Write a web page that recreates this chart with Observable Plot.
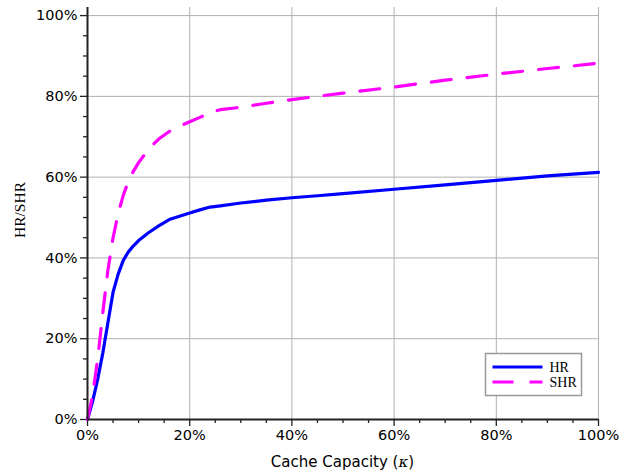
<!DOCTYPE html>
<html><head><meta charset="utf-8">
<script src="https://cdn.jsdelivr.net/npm/d3@7"></script>
<script src="https://cdn.jsdelivr.net/npm/@observablehq/plot@0.6"></script>
<style>html,body{margin:0;padding:0;background:#fff} svg{display:block}</style>
</head><body><div id="chart"></div>
<script>
// Cache capacity (fraction of catalogue)
const capacity = [0, 0.01, 0.02, 0.03, 0.04, 0.05, 0.06, 0.07, 0.08, 0.09, 0.10, 0.12, 0.14, 0.16, 0.18, 0.20, 0.22, 0.24, 0.26, 0.30, 0.35, 0.40, 0.45, 0.50, 0.60, 0.70, 0.80, 0.90, 1.00];
// Hit ratio (HR)
const hr = [0, 0.045, 0.10, 0.165, 0.24, 0.315, 0.36, 0.394, 0.415, 0.43, 0.443, 0.463, 0.48, 0.495, 0.503, 0.511, 0.519, 0.526, 0.529, 0.536, 0.543, 0.549, 0.554, 0.559, 0.570, 0.581, 0.592, 0.603, 0.612];
// Social hit ratio (SHR)
const shr = [0, 0.06, 0.15, 0.265, 0.37, 0.45, 0.51, 0.555, 0.59, 0.615, 0.636, 0.67, 0.695, 0.713, 0.726, 0.737, 0.748, 0.76, 0.767, 0.773, 0.783, 0.792, 0.800, 0.808, 0.823, 0.840, 0.855, 0.869, 0.882];
const seriesNames = ["HR", "SHR"];
const seriesColors = ["#0000ff", "#ff00ff"];
const majorTicks = [0, 0.2, 0.4, 0.6, 0.8, 1.0];
const minorTicks = [0.05, 0.10, 0.15, 0.25, 0.30, 0.35, 0.45, 0.50, 0.55, 0.65, 0.70, 0.75, 0.85, 0.90, 0.95];
const xLabel = "Cache Capacity (";
const xLabelSym = "κ";
const yLabel = "HR/SHR";

const rows = [];
capacity.forEach((c, i) => {
  rows.push({x: c, y: hr[i], s: seriesNames[0]});
  rows.push({x: c, y: shr[i], s: seriesNames[1]});
});
const pct = d3.format(".0%");
const sans = "DejaVu Sans, sans-serif";
const serif = "Liberation Serif, serif";

const plot = Plot.plot({
  width: 622, height: 475,
  marginLeft: 87, marginRight: 24, marginTop: 7, marginBottom: 56,
  style: {fontFamily: sans, fontSize: "14.5px", color: "#000", background: "#fff"},
  x: {domain: [0, 1]},
  y: {domain: [0, 1.02]},
  color: {domain: seriesNames, range: seriesColors},
  marks: [
    Plot.gridX(majorTicks, {stroke: "#b0b0b0", strokeOpacity: 1, strokeWidth: 1}),
    Plot.gridY(majorTicks, {stroke: "#b0b0b0", strokeOpacity: 1, strokeWidth: 1}),
    Plot.axisX(minorTicks, {tickSize: 4, tickFormat: () => "", label: null, stroke: "#222", strokeWidth: 1.3}),
    Plot.axisY(minorTicks, {tickSize: 4, tickFormat: () => "", label: null, stroke: "#222", strokeWidth: 1.3}),
    Plot.axisX(majorTicks, {tickSize: 7, tickPadding: 3, tickFormat: pct, label: null, stroke: "#222", strokeWidth: 1.3, fontSize: 14.5, fill: "#000"}),
    Plot.axisY(majorTicks, {tickSize: 7, tickPadding: 3, tickFormat: pct, label: null, stroke: "#222", strokeWidth: 1.3, fontSize: 14.5, fill: "#000"}),
    Plot.line(rows.filter(d => d.s === "HR"), {x: "x", y: "y", stroke: "s", strokeWidth: 3.2, curve: "linear"}),
    Plot.line(rows.filter(d => d.s === "SHR"), {x: "x", y: "y", stroke: "s", strokeWidth: 3.2, strokeDasharray: "20,16", curve: "linear"}),
    Plot.ruleY([0], {stroke: "#222", strokeWidth: 2}),
    Plot.ruleX([0], {stroke: "#222", strokeWidth: 2})
  ]
});
document.getElementById("chart").appendChild(plot);

const svg = d3.select(plot);
// Axis labels
const xt = svg.append("text").attr("x", 342.5).attr("y", 467).attr("text-anchor", "middle")
  .attr("font-family", sans).attr("font-size", 15).attr("fill", "#000");
xt.append("tspan").text(xLabel);
xt.append("tspan").attr("font-family", "DejaVu Serif, serif").attr("font-style", "italic").text(xLabelSym);
xt.append("tspan").text(")");
svg.append("text").attr("transform", "translate(24.5,210) rotate(-90)").attr("text-anchor", "middle")
  .attr("font-family", serif).attr("font-size", 15.5).attr("fill", "#000").text(yLabel);

// Legend
const lg = svg.append("g").attr("transform", "translate(485.5,353.5)");
lg.append("rect").attr("width", 96).attr("height", 42).attr("fill", "#fff").attr("stroke", "#999").attr("stroke-width", 1.5);
seriesNames.forEach((n, i) => {
  const yy = 13.5 + i * 15;
  lg.append("line").attr("x1", 7).attr("x2", 57).attr("y1", yy).attr("y2", yy)
    .attr("stroke", seriesColors[i]).attr("stroke-width", 3.2).attr("stroke-dasharray", i ? "21,16" : null);
  lg.append("text").attr("x", 64).attr("y", yy + 5).attr("text-anchor", "start")
    .attr("font-family", serif).attr("font-size", 14).attr("fill", "#000").text(n);
});
</script></body></html>
